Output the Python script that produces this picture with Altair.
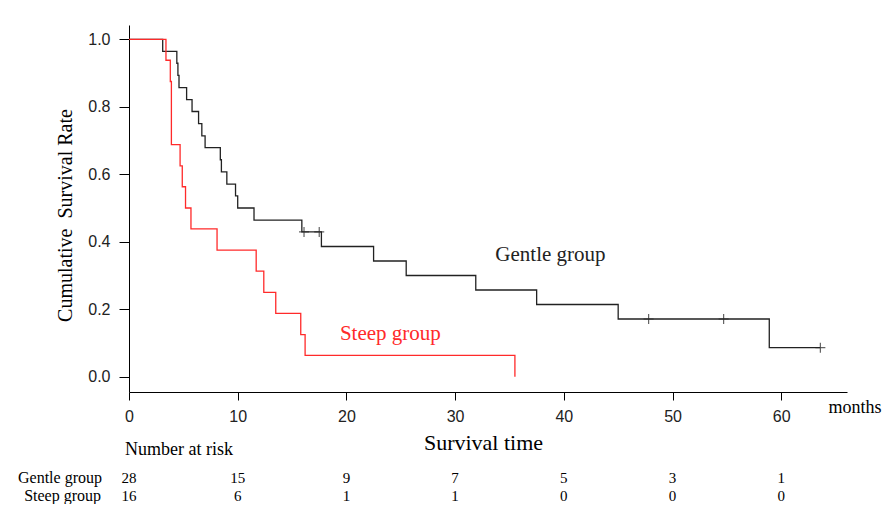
import altair as alt
import pandas as pd

# ---- Kaplan-Meier step points ----
gentle_t = [0, 3.1, 4.4, 4.5, 4.6, 5.3, 5.8, 6.4, 6.7, 7.0, 8.4, 8.5, 9.0, 9.8, 10.0, 11.5,
            15.9, 17.7, 22.5, 25.5, 31.9, 37.5, 45.0, 58.9, 63.6]
gentle_s = [1.0, 0.964, 0.929, 0.893, 0.857, 0.821, 0.786, 0.750, 0.714, 0.679, 0.643, 0.607,
            0.571, 0.536, 0.500, 0.464, 0.429, 0.386, 0.343, 0.300, 0.257, 0.214, 0.171, 0.086, 0.086]
steep_t = [0, 3.4, 3.8, 3.9, 4.7, 4.9, 5.2, 5.7, 8.1, 11.7, 12.4, 13.5, 15.8, 16.2, 35.5]
steep_s = [1.0, 0.938, 0.875, 0.688, 0.625, 0.563, 0.500, 0.438, 0.375, 0.313, 0.250, 0.188,
           0.125, 0.063, 0.0]

# censored observations (gentle group)
cens_t = [16.1, 17.5, 47.8, 54.7, 63.6]
cens_s = [0.429, 0.429, 0.171, 0.171, 0.086]

groups = ["Gentle group", "Steep group"]
colors = ["#222222", "#ff2a2a"]

# number at risk table
risk_times = [0, 10, 20, 30, 40, 50, 60]
gentle_risk = [28, 15, 9, 7, 5, 3, 1]
steep_risk = [16, 6, 1, 1, 0, 0, 0]

x_ticks = [0, 10, 20, 30, 40, 50, 60]
y_ticks = [0.0, 0.2, 0.4, 0.6, 0.8, 1.0]

# curve label positions (data coords)
label_names = ["Gentle group", "Steep group"]
label_t = [33.7, 19.4]
label_s = [0.343, 0.109]

curves = pd.DataFrame(
    {"t": gentle_t + steep_t,
     "s": gentle_s + steep_s,
     "group": [groups[0]] * len(gentle_t) + [groups[1]] * len(steep_t)}
)
cens = pd.DataFrame({"t": cens_t, "s": cens_s, "group": [groups[0]] * len(cens_t)})
labels = pd.DataFrame({"t": label_t, "s": label_s, "group": label_names})
risk_g = pd.DataFrame({"t": risk_times, "n": gentle_risk})
risk_s = pd.DataFrame({"t": risk_times, "n": steep_risk})

SERIF = "Liberation Serif"
SANS = "Liberation Sans"

xscale = alt.Scale(domain=[0, 66.05], nice=False, zero=False)
yscale = alt.Scale(domain=[-0.0453, 1.0424], nice=False, zero=False)
cscale = alt.Scale(domain=groups, range=colors)

xaxis = alt.Axis(values=x_ticks, grid=False, domainColor="black", tickColor="black",
                 tickSize=8, labelFont=SANS, labelFontSize=16, labelColor="#222222",
                 labelPadding=8, title="Survival time", titleFont=SERIF, titleFontSize=22,
                 titleFontWeight="normal", titleColor="black", titleX=354, titleY=50,
                 titleBaseline="middle", titleAlign="center", labelFlush=False)
yaxis = alt.Axis(values=y_ticks, format=".1f", grid=False, domainColor="black",
                 tickColor="black", tickSize=10, labelFont=SANS, labelFontSize=16,
                 labelColor="#222222", labelPadding=9,
                 title="Cumulative\u00a0 Survival Rate", titleFont=SERIF, titleFontSize=20,
                 titleFontWeight="normal", titleColor="black", titleX=-64, titleY=190,
                 titleAngle=270, titleBaseline="middle", titleAlign="center", labelFlush=False)

lines = alt.Chart(curves).mark_line(interpolate="step-after", strokeWidth=1.3).encode(
    x=alt.X("t:Q", scale=xscale, axis=xaxis),
    y=alt.Y("s:Q", scale=yscale, axis=yaxis),
    color=alt.Color("group:N", scale=cscale, legend=None),
)

censors = alt.Chart(cens).mark_point(shape="M-1,0L1,0M0,-1L0,1", size=100, filled=False,
                                       strokeWidth=1.2).encode(
    x=alt.X("t:Q", scale=xscale),
    y=alt.Y("s:Q", scale=yscale),
    color=alt.Color("group:N", scale=cscale, legend=None),
)

curve_labels = alt.Chart(labels).mark_text(font=SERIF, fontSize=21, align="left",
                                            baseline="alphabetic").encode(
    x=alt.X("t:Q", scale=xscale),
    y=alt.Y("s:Q", scale=yscale),
    text="group:N",
    color=alt.Color("group:N", scale=cscale, legend=None),
)

months = alt.Chart(pd.DataFrame({"txt": ["months"]})).mark_text(
    font=SERIF, fontSize=18, align="left", baseline="alphabetic", color="black"
).encode(x=alt.value(699.5), y=alt.value(388), text="txt:N")

nar = alt.Chart(pd.DataFrame({"txt": ["Number at risk"]})).mark_text(
    font=SERIF, fontSize=18, align="left", baseline="middle", color="black"
).encode(x=alt.value(-4), y=alt.value(425), text="txt:N")

row_g_label = alt.Chart(pd.DataFrame({"txt": [groups[0]]})).mark_text(
    font=SERIF, fontSize=16, align="right", baseline="alphabetic", color="black"
).encode(x=alt.value(-27), y=alt.value(458), text="txt:N")

row_s_label = alt.Chart(pd.DataFrame({"txt": [groups[1]]})).mark_text(
    font=SERIF, fontSize=16, align="right", baseline="alphabetic", color="black"
).encode(x=alt.value(-28), y=alt.value(476), text="txt:N")

row_g = alt.Chart(risk_g).mark_text(font=SERIF, fontSize=15, align="center",
                                    baseline="alphabetic", color="black").encode(
    x=alt.X("t:Q", scale=xscale), y=alt.value(458), text="n:Q")
row_s = alt.Chart(risk_s).mark_text(font=SERIF, fontSize=15, align="center",
                                    baseline="alphabetic", color="black").encode(
    x=alt.X("t:Q", scale=xscale), y=alt.value(476), text="n:Q")

chart = alt.layer(
    lines, censors, curve_labels, months, nar, row_g_label, row_s_label, row_g, row_s
).properties(
    width=718, height=367,
    autosize=alt.AutoSizeParams(type="none"),
    padding={"left": 121, "top": 17, "right": 35, "bottom": 112},
    background="white",
).configure_view(stroke=None)

chart.save("out.html", embed_options={"renderer": "svg", "actions": False})
